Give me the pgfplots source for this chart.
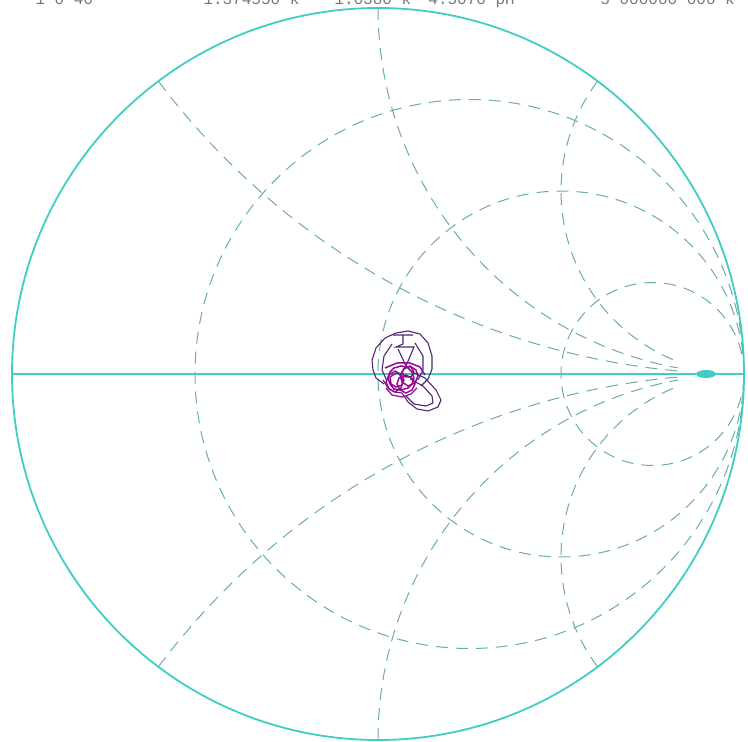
\documentclass[border=0pt]{standalone}
\usepackage{pgfplots}
\pgfplotsset{compat=1.18}
\usepackage{fontspec}
\setmainfont{Liberation Serif}
\setmonofont{Liberation Mono}
\definecolor{smithcyan}{RGB}{64,205,195}
\definecolor{gridteal}{RGB}{105,172,168}
\definecolor{trdark}{RGB}{80,40,110}
\definecolor{trmag}{RGB}{150,10,150}
\definecolor{hdrgray}{RGB}{120,120,120}
\begin{document}
\begin{tikzpicture}
\begin{axis}[
  hide axis, x=0.5pt, y=0.5pt, y dir=reverse,
  xmin=0, xmax=748, ymin=0, ymax=742,
  clip=false,
]
% --- grid: constant resistance circles (r = 1/3, 1, 3)
\draw[gridteal, line width=0.5pt, dash pattern=on 6pt off 4pt] (axis cs:469.5,374) circle[radius=137.25pt];
\draw[gridteal, line width=0.5pt, dash pattern=on 6pt off 4pt] (axis cs:561,374) circle[radius=91.5pt];
\draw[gridteal, line width=0.5pt, dash pattern=on 6pt off 4pt] (axis cs:652.5,374) circle[radius=45.75pt];
% --- grid: constant reactance arcs (x = +-0.5, +-1, +-2), up to r = 10
\draw[gridteal, line width=0.5pt, dash pattern=on 6pt off 4pt] (axis cs:158.4,81.2) arc[start angle=216.87, end angle=264.8, radius=366pt];
\draw[gridteal, line width=0.5pt, dash pattern=on 6pt off 4pt] (axis cs:378,8) arc[start angle=180, end angle=259.6, radius=183pt];
\draw[gridteal, line width=0.5pt, dash pattern=on 6pt off 4pt] (axis cs:597.6,81.2) arc[start angle=143.13, end angle=249.4, radius=91.5pt];
\draw[gridteal, line width=0.5pt, dash pattern=on 6pt off 4pt] (axis cs:158.4,666.8) arc[start angle=143.13, end angle=95.2, radius=366pt];
\draw[gridteal, line width=0.5pt, dash pattern=on 6pt off 4pt] (axis cs:378,740) arc[start angle=180, end angle=100.4, radius=183pt];
\draw[gridteal, line width=0.5pt, dash pattern=on 6pt off 4pt] (axis cs:597.6,666.8) arc[start angle=216.87, end angle=110.6, radius=91.5pt];
% --- outer circle and real axis
\draw[smithcyan, line width=0.9pt] (axis cs:378,374) circle[radius=183pt];
\draw[smithcyan, line width=0.8pt] (axis cs:12,374) -- (axis cs:744,374);
\fill[smithcyan] (axis cs:706,374) ellipse[x radius=5pt, y radius=2pt];

% --- trace
\addplot[trdark, line width=0.55pt] coordinates {
(384,384) (376,378) (373,370) (372,360) (376,348) (385,338) (396,333) (408,331)
(420,334) (428,343) (432,356) (432,369) (428,379) (421,386)
};
\addplot[trdark, line width=0.55pt] coordinates {
(393,335) (413,335) (403,335) (403,344) (396,347) (414,347) (406,366) (398,349)
};
\addplot[trdark, line width=0.55pt] coordinates {
(392,344) (384,356) (382,370) (387,381)
};
\addplot[trdark, line width=0.55pt] coordinates {
(415,343) (423,356) (423,370) (418,380)
};
\addplot[trdark, line width=0.55pt] coordinates {
(412,372) (425,378) (436,390) (441,400) (438,407) (428,411) (417,409) (408,402)
(402,393) (395,392) (388,388) (383,380)
};
\addplot[trdark, line width=0.55pt] coordinates {
(410,379) (423,386) (432,396) (433,403) (426,406) (414,404) (406,396)
};
\addplot[trmag, line width=0.75pt] coordinates {
(385,368) (397,363) (410,363) (420,367) (425,375)
};
\addplot[trmag, line width=0.75pt] coordinates {
(414,378) (412,372) (407,367) (401,366) (394,368) (390,372) (388,378) (390,384)
(394,389) (401,390) (408,388) (412,384) (414,378)
};
\addplot[trmag, line width=0.75pt] coordinates {
(415,384) (413,379) (406,375) (399,378) (397,384) (400,390) (406,393) (412,390) (415,384)
};
\addplot[trmag, line width=0.75pt] coordinates {
(404,380) (401,374) (396,373) (390,377) (391,384) (396,387) (402,385) (404,380)
};
\addplot[trmag, line width=0.75pt] coordinates {
(414,372) (411,367) (405,367) (402,372) (405,377) (411,377) (414,372)
};
\addplot[trmag, line width=0.75pt] coordinates {
(418,376) (416,370) (410,366) (404,369) (400,375) (402,382) (408,386) (415,383) (418,376)
};
\addplot[trmag, line width=0.75pt] coordinates {
(395,371) (389,375) (386,382) (389,389) (395,392) (401,388) (403,381) (400,374) (395,371)
};
\addplot[trmag, line width=0.6pt] coordinates {
(386,388) (392,395) (402,397) (411,394) (417,388)
};

% --- header (cut off at the top edge, as in the reference)
\node[anchor=base west, text=hdrgray, font=\fontsize{8}{9}\ttfamily, inner sep=0pt] at (axis cs:35,5) {1 0 46};
\node[anchor=base west, text=hdrgray, font=\fontsize{8}{9}\ttfamily, inner sep=0pt] at (axis cs:203,5) {1.374550 k};
\node[anchor=base west, text=hdrgray, font=\fontsize{8}{9}\ttfamily, inner sep=0pt] at (axis cs:334,5) {1.6380 k};
\node[anchor=base west, text=hdrgray, font=\fontsize{8}{9}\ttfamily, inner sep=0pt] at (axis cs:428,5) {4.5070 pH};
\node[anchor=base west, text=hdrgray, font=\fontsize{8}{9}\ttfamily, inner sep=0pt] at (axis cs:600,5) {5 000000 000 k};
\end{axis}
\pgfresetboundingbox
\useasboundingbox (current axis.south west) rectangle (current axis.north east);
\end{tikzpicture}
\end{document}
